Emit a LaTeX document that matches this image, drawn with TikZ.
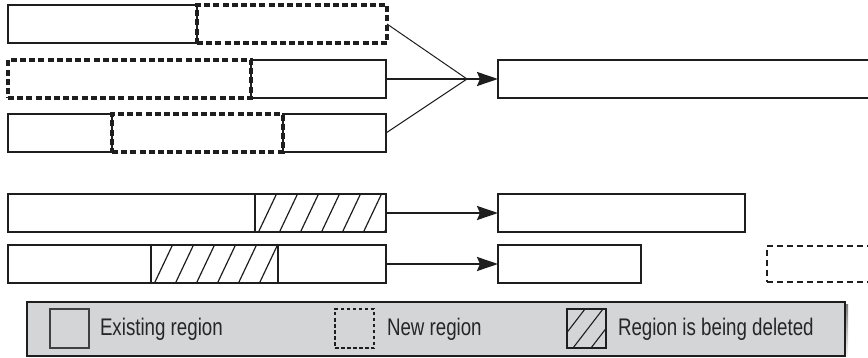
\documentclass[tikz,border=0pt]{standalone}
\usepackage{fontspec}
\setmainfont{Liberation Sans}[FakeStretch=0.78]
\usepackage{xcolor}
\usepackage{tikz}
\usetikzlibrary{arrows.meta}
\definecolor{legendgray}{HTML}{D4D5D7}
\definecolor{shade}{HTML}{5A5A5A}
\definecolor{ink}{HTML}{1E1E1E}

\begin{document}
\begin{tikzpicture}[
      x=1pt, y=-1pt,
      every node/.style={inner sep=0pt, outer sep=0pt},
      exist/.style={draw=ink, line width=1.2pt, fill=white, anchor=north west,
                    minimum height=38pt},
      newreg/.style={draw=ink, line width=3.2pt, dash pattern=on 6pt off 3.2pt,
                     anchor=north west, minimum height=38pt},
      gone/.style={exist, path picture={
                     \foreach \k in {-1,...,7} {
                       \draw[ink, line width=1.2pt]
                         ([xshift=\k*21pt+3.5pt]path picture bounding box.south west)
                         -- ++(18pt,38pt);
                     }}},
      feed/.style={draw=ink, line width=1pt},
      arr/.style={draw=ink, -{Stealth[length=21pt, width=14pt, inset=3pt]},
                  line width=2.2pt},
      lab/.style={font=\fontsize{24}{28}\selectfont, text=black!85,
                  anchor=base west}
  ]
    \useasboundingbox (0,0) rectangle (868,358);

    % ---- Three sources, merged ----
    \node[exist, minimum width=189pt] (a1) at (8,5) {};
    \node[newreg, minimum width=190pt] (a2) at (197,5) {};

    \node[exist, minimum width=135pt] (b2) at (251,60) {};
    \node[newreg, minimum width=243pt] (b1) at (8,60) {};

    \node[exist, minimum width=104pt] (c1) at (8,114) {};
    \node[exist, minimum width=103pt] (c3) at (283,114) {};
    \node[newreg, minimum width=171pt] (c2) at (112,114) {};

    \coordinate (join) at (467,79);
    \node[exist, minimum width=380pt] (merged) at (498,60) {};

    \draw[feed] (a2.east) -- (join);
    \draw[feed] (c3.east) -- (join);
    \draw[arr] (b2.east) -- (join) -- (merged.west);

    % ---- Deleted at the end ----
    \node[exist, minimum width=247pt] (d1) at (8,194) {};
    \node[gone, minimum width=131pt] (d2) at (255,194) {};
    \node[exist, minimum width=247pt] (shortA) at (498,194) {};
    \draw[arr] (d2.east) -- (shortA.west);

    % ---- Deleted in the middle ----
    \node[exist, minimum width=143pt] (f1) at (8,245) {};
    \node[gone, minimum width=127pt] (f2) at (151,245) {};
    \node[exist, minimum width=108pt] (f3) at (278,245) {};
    \node[exist, minimum width=143pt] (shortB) at (498,245) {};
    \node[draw=ink, line width=1.8pt, dash pattern=on 6pt off 4pt,
          anchor=north west, minimum width=120pt, minimum height=36pt]
          (spare) at (767,246) {};
    \draw[arr] (f3.east) -- (shortB.west);

    % ---- Legend ----
    \fill[shade] (30,305) rectangle (848,359);
    \node[draw=ink, line width=1.2pt, fill=legendgray, anchor=north west,
          minimum width=818pt, minimum height=54pt] (legend) at (27,302) {};

    \node[draw=black!75, line width=1.4pt, anchor=north west,
          minimum width=39pt, minimum height=39pt] (icExist) at (50,309) {};
    \node[lab] (txExist) at (100,335) {Existing region};

    \node[draw=ink, line width=2.6pt, dash pattern=on 3.5pt off 2.5pt, anchor=north west,
          minimum width=39pt, minimum height=39pt] (icNew) at (335,309) {};
    \node[lab] (txNew) at (387,335) {New region};

    \node[draw=ink, line width=1.4pt, anchor=north west,
          minimum width=39pt, minimum height=39pt,
          path picture={
            \foreach \k in {0,1,2} {
              \draw[ink, line width=1.1pt]
                ([xshift=\k*18pt-12pt]path picture bounding box.south west)
                -- ++(30pt,39pt);
            }}] (icGone) at (567,309) {};
    \node[lab] (txGone) at (618,335) {Region is being deleted};

  \end{tikzpicture}
\end{document}
